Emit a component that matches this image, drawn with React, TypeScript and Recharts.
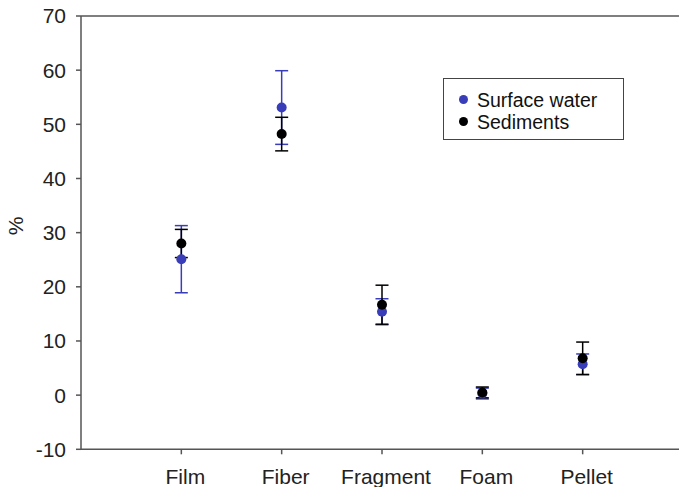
import React from 'react';
import { ScatterChart, Scatter, XAxis, YAxis, ErrorBar, ReferenceLine, Legend } from 'recharts';

const categories = ['Film', 'Fiber', 'Fragment', 'Foam', 'Pellet'];
const surfaceWater = [25.1, 53.1, 15.4, 0.3, 5.7];
const surfaceWaterErr = [6.2, 6.8, 2.4, 1.0, 1.9];
const sediments = [28.0, 48.2, 16.7, 0.5, 6.8];
const sedimentsErr = [2.6, 3.1, 3.6, 1.0, 3.0];
const yTicks = [-10, 0, 10, 20, 30, 40, 50, 60, 70];
const seriesNames = ['Surface water', 'Sediments'];

const BLUE = '#3a3db8';
const BLACK = '#000000';
const AXIS = '#555555';
const FONT = '"Liberation Sans", Arial, sans-serif';

const swData = categories.map((c, i) => ({ x: i + 1, y: surfaceWater[i], err: surfaceWaterErr[i], name: c }));
const sedData = categories.map((c, i) => ({ x: i + 1, y: sediments[i], err: sedimentsErr[i], name: c }));

const dot = (color: string) => (props: any) => (
  <circle cx={props.cx} cy={props.cy} r={5} fill={color} />
);

const XTick = (props: any) => {
  const { x, y, payload } = props;
  return (
    <text x={x + 4} y={y} dy={15} textAnchor="middle" fill="#222" fontSize={21} fontFamily={FONT}>
      {categories[payload.value - 1]}
    </text>
  );
};

const LegendBox = (props: any) => {
  const payload = [...(props.payload || [])].sort(
    (a: any, b: any) => seriesNames.indexOf(a.value) - seriesNames.indexOf(b.value)
  );
  return (
    <div
      style={{
        boxSizing: 'border-box',
        width: 181,
        height: 62,
        border: '1.5px solid #444',
        background: '#fff',
        paddingTop: 9.5,
        paddingLeft: 15,
        fontFamily: FONT,
        fontSize: 19.5,
        color: '#111',
      }}
    >
      {payload.map((p: any) => (
        <div key={p.value} style={{ display: 'flex', alignItems: 'center', height: 22, lineHeight: '22px' }}>
          <span
            style={{
              display: 'inline-block',
              width: 9,
              height: 9,
              borderRadius: '50%',
              background: p.color,
              marginRight: 9,
            }}
          />
          <span style={{ whiteSpace: 'nowrap' }}>{p.value}</span>
        </div>
      ))}
    </div>
  );
};

export default function App() {
  return (
    <div style={{ position: 'absolute', left: 0, top: 0, width: 679, height: 487, overflow: 'hidden', background: '#fff' }}>
      <ScatterChart width={683} height={487} margin={{ top: 16, right: 0, bottom: 0, left: 0 }}>
        <XAxis
          type="number"
          dataKey="x"
          domain={[0, 6]}
          ticks={[1, 2, 3, 4, 5]}
          height={37.7}
          tick={<XTick />}
          tickSize={5}
          tickMargin={15}
          axisLine={{ stroke: AXIS, strokeWidth: 1.5 }}
          tickLine={{ stroke: AXIS, strokeWidth: 1.5 }}
          allowDataOverflow
        />
        <YAxis
          type="number"
          dataKey="y"
          domain={[-10, 70]}
          ticks={yTicks}
          width={81}
          tickSize={5}
          tickMargin={10}
          axisLine={{ stroke: AXIS, strokeWidth: 1.5 }}
          tickLine={{ stroke: AXIS, strokeWidth: 1.5 }}
          tick={{ fill: '#222', fontSize: 21, fontFamily: FONT }}
          allowDataOverflow
          label={() => (
            <text
              x={15.5}
              y={226}
              transform="rotate(-90 15.5 226)"
              textAnchor="middle"
              dominantBaseline="central"
              fill="#222"
              fontSize={21}
              fontFamily={FONT}
            >
              %
            </text>
          )}
        />
        <ReferenceLine y={70} stroke={AXIS} strokeWidth={1.5} />
        <Scatter name={seriesNames[0]} data={swData} fill={BLUE} shape={dot(BLUE)} isAnimationActive={false}>
          <ErrorBar dataKey="err" direction="y" width={6.5} stroke={BLUE} strokeWidth={1.5} isAnimationActive={false} />
        </Scatter>
        <Scatter name={seriesNames[1]} data={sedData} fill={BLACK} shape={dot(BLACK)} isAnimationActive={false}>
          <ErrorBar dataKey="err" direction="y" width={6.5} stroke={BLACK} strokeWidth={1.5} isAnimationActive={false} />
        </Scatter>
        <Legend
          layout="vertical"
          align="center"
          verticalAlign="middle"
          content={<LegendBox />}
          wrapperStyle={{ left: 443, top: 78, width: 181, height: 62 }}
        />
      </ScatterChart>
    </div>
  );
}
